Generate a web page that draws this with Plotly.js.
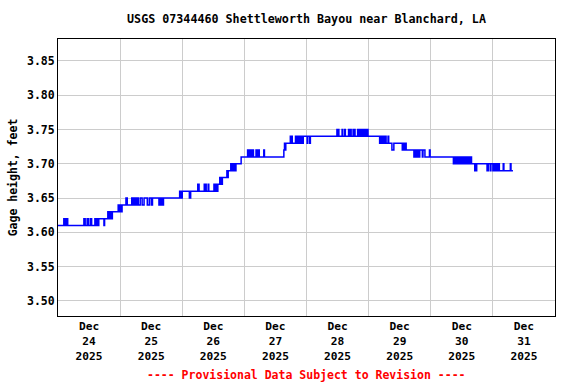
<!DOCTYPE html>
<html>
<head>
<meta charset="utf-8">
<script src="https://cdn.plot.ly/plotly-3.0.1.min.js"></script>
<style>html,body{margin:0;padding:0;background:#fff;}#chart{width:576px;height:384px;}</style>
</head>
<body>
<div id="chart"></div>
<script>
// Change points of the gage-height record (step series)
const times = [
 '2025-12-24 00:00','2025-12-24 02:15','2025-12-24 02:45','2025-12-24 03:15','2025-12-24 03:45',
 '2025-12-24 10:00','2025-12-24 10:30','2025-12-24 11:15','2025-12-24 11:45','2025-12-24 12:30',
 '2025-12-24 13:00','2025-12-24 14:15','2025-12-24 14:30','2025-12-24 14:45','2025-12-24 15:00',
 '2025-12-24 15:15','2025-12-24 15:30','2025-12-24 15:45','2025-12-24 17:45','2025-12-24 18:00',
 '2025-12-24 19:15','2025-12-24 19:30','2025-12-24 19:45','2025-12-24 20:00','2025-12-24 20:30',
 '2025-12-24 20:45','2025-12-24 21:00','2025-12-24 23:15','2025-12-24 23:30','2025-12-24 23:45',
 '2025-12-25 00:00','2025-12-25 00:15','2025-12-25 00:30','2025-12-25 00:45','2025-12-25 02:15',
 '2025-12-25 02:45','2025-12-25 04:30','2025-12-25 04:45','2025-12-25 05:00','2025-12-25 05:15',
 '2025-12-25 05:30','2025-12-25 05:45','2025-12-25 06:00','2025-12-25 06:15','2025-12-25 06:45',
 '2025-12-25 07:00','2025-12-25 07:45','2025-12-25 08:30','2025-12-25 09:15','2025-12-25 10:30',
 '2025-12-25 11:15','2025-12-25 12:00','2025-12-25 12:30','2025-12-25 15:00','2025-12-25 15:15',
 '2025-12-25 15:30','2025-12-25 15:45','2025-12-25 16:00','2025-12-25 16:15','2025-12-25 16:30',
 '2025-12-25 16:45','2025-12-25 23:00','2025-12-25 23:15','2025-12-25 23:30','2025-12-25 23:45',
 '2025-12-26 00:00','2025-12-26 02:45','2025-12-26 03:15','2025-12-26 06:00','2025-12-26 06:30',
 '2025-12-26 08:30','2025-12-26 08:45','2025-12-26 09:00','2025-12-26 09:15','2025-12-26 10:00',
 '2025-12-26 10:15','2025-12-26 12:15','2025-12-26 12:30','2025-12-26 12:45','2025-12-26 13:00',
 '2025-12-26 13:15','2025-12-26 13:30','2025-12-26 13:45','2025-12-26 14:30','2025-12-26 14:45',
 '2025-12-26 15:00','2025-12-26 15:15','2025-12-26 15:30','2025-12-26 17:15','2025-12-26 17:30',
 '2025-12-26 17:45','2025-12-26 18:45','2025-12-26 19:00','2025-12-26 19:15','2025-12-26 19:30',
 '2025-12-26 19:45','2025-12-26 20:00','2025-12-26 20:15','2025-12-26 20:30','2025-12-26 20:45',
 '2025-12-26 22:45',
 '2025-12-27 01:15','2025-12-27 01:30','2025-12-27 01:45','2025-12-27 02:00','2025-12-27 02:30',
 '2025-12-27 02:45','2025-12-27 03:00','2025-12-27 03:30','2025-12-27 04:30','2025-12-27 04:45',
 '2025-12-27 05:00','2025-12-27 05:15','2025-12-27 05:30','2025-12-27 05:45','2025-12-27 07:30',
 '2025-12-27 07:45','2025-12-27 15:15','2025-12-27 15:30','2025-12-27 15:45','2025-12-27 16:00',
 '2025-12-27 17:45','2025-12-27 18:00','2025-12-27 18:15','2025-12-27 18:30','2025-12-27 19:45',
 '2025-12-27 20:00','2025-12-27 20:15','2025-12-27 20:45','2025-12-27 21:00','2025-12-27 21:15',
 '2025-12-27 21:30','2025-12-27 21:45','2025-12-27 22:00','2025-12-27 22:15','2025-12-27 22:45',
 '2025-12-28 00:15','2025-12-28 00:30','2025-12-28 01:15','2025-12-28 01:30','2025-12-28 11:45',
 '2025-12-28 12:00','2025-12-28 12:15','2025-12-28 12:30','2025-12-28 13:45','2025-12-28 14:00',
 '2025-12-28 14:45','2025-12-28 15:00','2025-12-28 16:15','2025-12-28 16:30','2025-12-28 17:00',
 '2025-12-28 17:15','2025-12-28 18:00','2025-12-28 18:15','2025-12-28 18:30','2025-12-28 18:45',
 '2025-12-28 19:45','2025-12-28 20:00','2025-12-28 20:15','2025-12-28 20:30','2025-12-28 20:45',
 '2025-12-28 21:15','2025-12-28 21:45','2025-12-28 22:00','2025-12-28 22:15','2025-12-28 22:30',
 '2025-12-28 22:45','2025-12-28 23:00','2025-12-28 23:30','2025-12-28 23:45',
 '2025-12-29 04:15','2025-12-29 04:30','2025-12-29 04:45','2025-12-29 05:00','2025-12-29 05:15',
 '2025-12-29 05:30','2025-12-29 05:45','2025-12-29 06:00','2025-12-29 06:15','2025-12-29 06:30',
 '2025-12-29 06:45','2025-12-29 07:30','2025-12-29 07:45','2025-12-29 09:00','2025-12-29 09:45',
 '2025-12-29 13:00','2025-12-29 13:15','2025-12-29 13:30','2025-12-29 13:45','2025-12-29 14:00',
 '2025-12-29 14:15','2025-12-29 14:30','2025-12-29 17:30','2025-12-29 18:00','2025-12-29 18:30',
 '2025-12-29 18:45','2025-12-29 19:00','2025-12-29 19:15','2025-12-29 19:30','2025-12-29 19:45',
 '2025-12-29 20:45','2025-12-29 21:00','2025-12-29 21:45','2025-12-29 23:30','2025-12-29 23:45',
 '2025-12-30 08:45','2025-12-30 09:00','2025-12-30 09:15','2025-12-30 09:30','2025-12-30 09:45',
 '2025-12-30 10:00','2025-12-30 10:15','2025-12-30 10:30','2025-12-30 10:45','2025-12-30 11:00',
 '2025-12-30 11:15','2025-12-30 11:30','2025-12-30 11:45','2025-12-30 12:00','2025-12-30 12:15',
 '2025-12-30 12:30','2025-12-30 12:45','2025-12-30 13:00','2025-12-30 13:15','2025-12-30 13:30',
 '2025-12-30 13:45','2025-12-30 14:00','2025-12-30 14:30','2025-12-30 14:45','2025-12-30 15:15',
 '2025-12-30 15:30','2025-12-30 15:45','2025-12-30 17:00','2025-12-30 17:15','2025-12-30 17:30',
 '2025-12-30 17:45','2025-12-30 21:45','2025-12-30 22:15','2025-12-30 23:00','2025-12-30 23:15',
 '2025-12-31 00:00','2025-12-31 00:15','2025-12-31 00:30','2025-12-31 00:45','2025-12-31 01:00',
 '2025-12-31 01:30','2025-12-31 01:45','2025-12-31 02:15','2025-12-31 02:30','2025-12-31 04:00',
 '2025-12-31 04:15','2025-12-31 06:45','2025-12-31 07:00','2025-12-31 07:45'
];
const gageHeight = [
 3.61,3.62,3.61,3.62,3.61,
 3.62,3.61,3.62,3.61,3.62,
 3.61,3.62,3.61,3.62,3.61,
 3.62,3.61,3.62,3.61,3.62,
 3.63,3.62,3.63,3.62,3.63,
 3.62,3.63,3.64,3.63,3.64,
 3.63,3.64,3.63,3.64,3.65,
 3.64,3.65,3.64,3.65,3.64,
 3.65,3.64,3.65,3.64,3.65,
 3.64,3.65,3.64,3.65,3.64,
 3.65,3.64,3.65,3.64,3.65,
 3.64,3.65,3.64,3.65,3.64,
 3.65,3.66,3.65,3.66,3.65,
 3.66,3.65,3.66,3.67,3.66,
 3.67,3.66,3.67,3.66,3.67,
 3.66,3.67,3.66,3.67,3.66,
 3.67,3.66,3.67,3.68,3.67,
 3.68,3.67,3.68,3.69,3.68,
 3.69,3.70,3.69,3.70,3.69,
 3.70,3.69,3.70,3.69,3.70,
 3.71,
 3.72,3.71,3.72,3.71,3.72,
 3.71,3.72,3.71,3.72,3.71,
 3.72,3.71,3.72,3.71,3.72,
 3.71,3.72,3.73,3.72,3.73,
 3.74,3.73,3.74,3.73,3.74,
 3.73,3.74,3.73,3.74,3.73,
 3.74,3.73,3.74,3.73,3.74,
 3.73,3.74,3.73,3.74,3.75,
 3.74,3.75,3.74,3.75,3.74,
 3.75,3.74,3.75,3.74,3.75,
 3.74,3.75,3.74,3.75,3.74,
 3.75,3.74,3.75,3.74,3.75,
 3.74,3.75,3.74,3.75,3.74,
 3.75,3.74,3.75,3.74,
 3.73,3.74,3.73,3.74,3.73,
 3.74,3.73,3.74,3.73,3.74,
 3.73,3.74,3.73,3.72,3.73,
 3.72,3.73,3.72,3.73,3.72,
 3.73,3.72,3.71,3.72,3.71,
 3.72,3.71,3.72,3.71,3.72,
 3.71,3.72,3.71,3.72,3.71,
 3.70,3.71,3.70,3.71,3.70,
 3.71,3.70,3.71,3.70,3.71,
 3.70,3.71,3.70,3.71,3.70,
 3.71,3.70,3.71,3.70,3.71,
 3.70,3.71,3.70,3.71,3.70,
 3.71,3.70,3.69,3.70,3.69,
 3.70,3.69,3.70,3.69,3.70,
 3.69,3.70,3.69,3.70,3.69,
 3.70,3.69,3.70,3.69,3.70,
 3.69,3.70,3.69,3.69
];
const chartTitle = 'USGS 07344460 Shettleworth Bayou near Blanchard, LA';
const yTitle = 'Gage height, feet';
const footNote = '---- Provisional Data Subject to Revision ----';
const xRange = ['2025-12-24 00:00', '2026-01-01 00:00'];
const yRange = [3.478, 3.882];

const mono = 'DejaVu Sans Mono, monospace';
const trace = {
  x: times, y: gageHeight, type: 'scatter', mode: 'lines',
  line: {shape: 'hv', color: '#0000ff', width: 1.5},
  hoverinfo: 'skip'
};
const layout = {
  width: 576, height: 384,
  margin: {l: 58, r: 21, t: 39, b: 68},
  paper_bgcolor: '#ffffff', plot_bgcolor: '#ffffff',
  showlegend: false,
  font: {family: mono, size: 11.5, color: '#000', weight: 'bold'},
  title: {text: chartTitle, font: {family: mono, size: 11.7, color: '#000', weight: 'bold'},
          xref: 'paper', x: 0.5, xanchor: 'center', y: 1 - 19/384, yanchor: 'middle'},
  xaxis: {
    type: 'date', range: xRange, tick0: '2025-12-24', dtick: 86400000,
    ticklabelmode: 'period', tickformat: '%b<br>%d<br>%Y',
    showgrid: true, gridcolor: '#cccccc', gridwidth: 1,
    showline: true, linecolor: '#000', linewidth: 1, mirror: true,
    ticks: '', zeroline: false,
    tickfont: {family: mono, size: 11.2, color: '#000', weight: 'bold'}
  },
  yaxis: {
    range: yRange, dtick: 0.05, tick0: 3.5, tickformat: '.2f',
    showgrid: true, gridcolor: '#cccccc', gridwidth: 1,
    showline: true, linecolor: '#000', linewidth: 1, mirror: true,
    ticks: '', zeroline: false,
    tickfont: {family: mono, size: 11.5, color: '#000', weight: 'bold'},
    title: {text: yTitle, font: {family: mono, size: 11.5, color: '#000', weight: 'bold'}, standoff: 6}
  },
  annotations: [{
    text: footNote, xref: 'paper', yref: 'paper', x: 0.5, y: -0.213,
    xanchor: 'center', yanchor: 'middle', showarrow: false,
    font: {family: mono, size: 11.5, color: '#ff0000', weight: 'bold'}
  }]
};
Plotly.newPlot('chart', [trace], layout, {displayModeBar: false, staticPlot: true});
</script>
</body>
</html>
